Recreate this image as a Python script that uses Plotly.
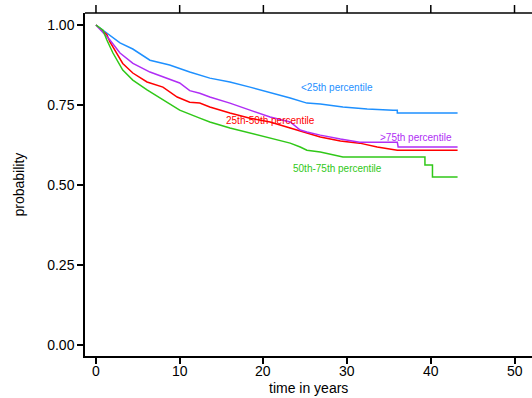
import plotly.graph_objects as go

# ---- data (time in years, survival probability) ----
blue_t = [0, 1.67, 2.87, 4.4, 6.45, 8.8, 11.2, 13.6, 16.0, 18.4, 20.8, 23.2, 25.2, 26.8, 29.5, 32.4, 35.5, 36.0, 36.0, 43.2]
blue_p = [1.0, 0.969, 0.944, 0.925, 0.89, 0.875, 0.853, 0.834, 0.822, 0.806, 0.79, 0.772, 0.756, 0.753, 0.744, 0.7375, 0.734, 0.734, 0.725, 0.725]

purple_t = [0, 1.67, 2.87, 4.42, 6.45, 8.48, 10.0, 11.2, 12.4, 13.6, 16.0, 18.4, 20.8, 23.2, 24.4, 25.2, 26.8, 29.2, 31.5, 36.0, 36.1, 43.2]
purple_p = [1.0, 0.953, 0.9125, 0.88, 0.853, 0.834, 0.819, 0.795, 0.787, 0.775, 0.756, 0.734, 0.7125, 0.697, 0.672, 0.666, 0.656, 0.644, 0.634, 0.634, 0.619, 0.619]

red_t = [0, 1.3, 1.67, 2.5, 3.2, 4.4, 6.1, 8.0, 9.7, 11.2, 12.4, 13.6, 16.0, 18.4, 20.8, 23.2, 25.2, 26.8, 29.2, 31.5, 33.6, 35.5, 36.0, 43.2]
red_p = [1.0, 0.97, 0.947, 0.9125, 0.88, 0.85, 0.822, 0.806, 0.775, 0.759, 0.756, 0.744, 0.725, 0.709, 0.697, 0.678, 0.6625, 0.65, 0.6375, 0.631, 0.619, 0.6125, 0.609, 0.609]

green_t = [0, 0.84, 1.3, 2.03, 3.2, 4.4, 6.1, 8.0, 10.0, 12.4, 13.6, 16.0, 18.4, 20.8, 23.2, 24.4, 25.2, 26.8, 29.5, 39.3, 39.3, 40.2, 40.2, 43.2]
green_p = [1.0, 0.984, 0.953, 0.9125, 0.859, 0.828, 0.797, 0.766, 0.734, 0.709, 0.697, 0.678, 0.6625, 0.647, 0.631, 0.619, 0.609, 0.603, 0.5875, 0.5875, 0.5625, 0.5625, 0.525, 0.525]

series_names = ["<25th percentile", "25th-50th percentile", ">75th percentile", "50th-75th percentile"]
label_t = [28.8, 20.9, 38.2, 28.8]
label_p = [0.804, 0.703, 0.648, 0.553]

x_ticks = [0, 10, 20, 30, 40, 50]
x_ticklabels = ["0", "10", "20", "30", "40", "50"]
y_ticks = [0.0, 0.25, 0.5, 0.75, 1.0]
y_ticklabels = ["0.00", "0.25", "0.50", "0.75", "1.00"]

colors = ["#1E90FF", "#FF0000", "#B02EF5", "#30C818"]
FONT = "Arial, Liberation Sans, Helvetica, sans-serif"
X_RANGE = [-1.31, 52.09]

fig = go.Figure()
curves = [(blue_t, blue_p), (red_t, red_p), (purple_t, purple_p), (green_t, green_p)]
for (t, p), c, n in zip(curves, colors, series_names):
    fig.add_trace(go.Scatter(x=t, y=p, mode="lines", line=dict(color=c, width=1.5),
                             name=n, showlegend=False, hoverinfo="skip"))

for n, tx, py, c in zip(series_names, label_t, label_p, colors):
    fig.add_annotation(x=tx, y=py, text=n, showarrow=False,
                       font=dict(family=FONT, size=10, color=c),
                       xanchor="center", yanchor="middle")

# x tick labels
for tv, tl in zip(x_ticks, x_ticklabels):
    fig.add_annotation(x=tv, xref="x", yref="paper", y=0, yshift=-15, text=tl,
                       showarrow=False, font=dict(family=FONT, size=14, color="#000"),
                       xanchor="center", yanchor="middle")

# top frame line and outward ticks
fig.add_shape(type="line", xref="paper", yref="paper", x0=0, x1=1, y0=1, y1=1,
              line=dict(color="#000", width=1.5), layer="above")
for tv in x_ticks:
    fig.add_shape(type="line", xref="x", yref="paper", x0=tv, x1=tv,
                  ysizemode="pixel", yanchor=1, y0=0, y1=8,
                  line=dict(color="#000", width=1.5), layer="above")

fig.add_annotation(xref="paper", yref="paper", x=0.5, y=0, yshift=-32,
                   text="time in years", showarrow=False,
                   font=dict(family=FONT, size=14, color="#000"),
                   xanchor="center", yanchor="middle")
fig.add_annotation(xref="paper", yref="paper", x=0, y=0.5, xshift=-67,
                   text="probability", showarrow=False, textangle=-90,
                   font=dict(family=FONT, size=14, color="#000"),
                   xanchor="center", yanchor="middle")

fig.update_layout(
    width=532, height=398,
    margin=dict(l=85, r=0, t=13, b=42),
    paper_bgcolor="white", plot_bgcolor="white",
    font=dict(family=FONT, size=14, color="#000"),
    xaxis=dict(range=X_RANGE, tickvals=x_ticks, ticks="outside", ticklen=6,
               tickwidth=1.5, tickcolor="#000", showline=True, linecolor="#000",
               linewidth=1.5, showgrid=False, zeroline=False, showticklabels=False),
    yaxis=dict(range=[-0.034, 1.0375], tickvals=y_ticks, ticktext=y_ticklabels,
               ticks="outside", ticklen=6, tickwidth=1.5, tickcolor="#000",
               showline=True, linecolor="#000", linewidth=1.5, showgrid=False,
               zeroline=False, tickfont=dict(family=FONT, size=14, color="#000")),
)

fig.write_html("out.html")
